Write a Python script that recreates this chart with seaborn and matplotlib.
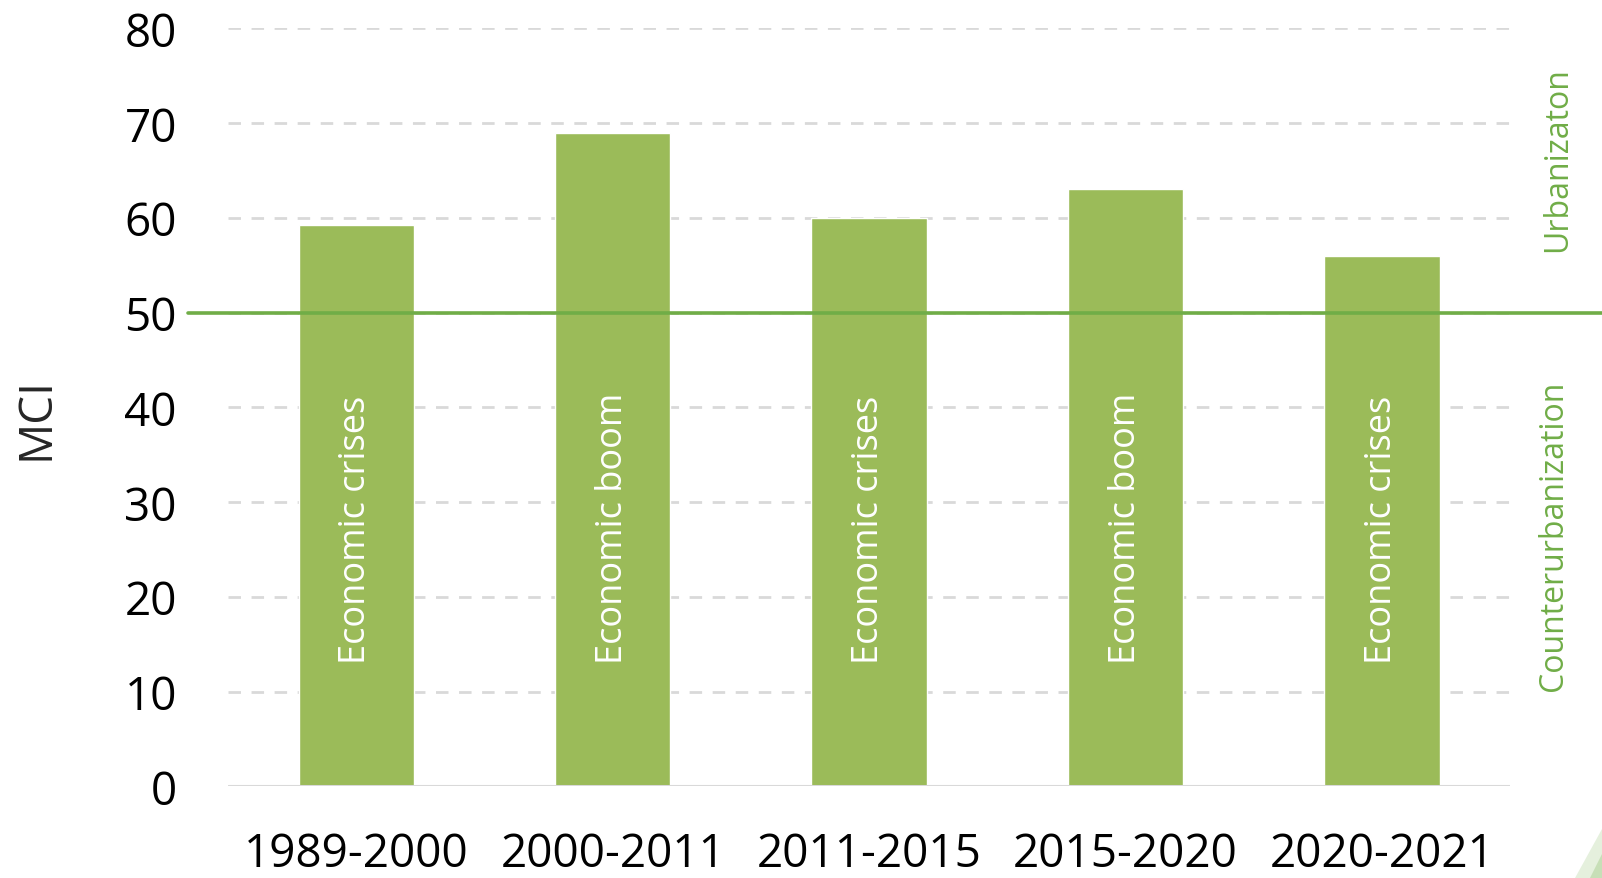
import matplotlib
matplotlib.use("Agg")
import matplotlib.pyplot as plt
import seaborn as sns
import pandas as pd
from matplotlib.patches import Polygon

periods = ["1989-2000", "2000-2011", "2011-2015", "2015-2020", "2020-2021"]
mci = [59.2, 69, 60, 63, 56]
phase = ["Economic crises", "Economic boom", "Economic crises", "Economic boom", "Economic crises"]
threshold = 50
y_ticks = [0, 10, 20, 30, 40, 50, 60, 70, 80]

BAR = "#9BBB59"
LINE = "#70AD47"
GRID = "#D9D9D9"

sns.set_style("white")
plt.rcParams["font.family"] = ["Open Sans", "DejaVu Sans"]

df = pd.DataFrame({"period": periods, "MCI": mci})

fig = plt.figure(figsize=(16.02, 8.79), dpi=100)
ax = fig.add_axes([0.1425, 0.1043, 0.8001, 0.8624])

for y in y_ticks[1:]:
    ax.axhline(y, color=GRID, lw=2, linestyle=(0, (4.5, 3.8)), zorder=0)

sns.barplot(data=df, x="period", y="MCI", color=BAR, width=0.45,
            saturation=1, ax=ax, zorder=2)

ax.axhline(threshold, xmin=-0.0314, xmax=1.08, color=LINE, lw=2.6,
           clip_on=False, zorder=3)
ax.axhline(0, color=GRID, lw=2.2, zorder=4)

for i, txt in enumerate(phase):
    ax.text(i, 13, txt, rotation=90, ha="center", va="bottom",
            color="white", fontsize=26, zorder=5)

ax.set_xlim(-0.5, len(periods) - 0.5)
ax.set_ylim(0, 80)
ax.set_yticks(y_ticks)
ax.set_xlabel("")
ax.set_ylabel("")
ax.tick_params(axis="both", length=0, labelsize=33, colors="black")
ax.tick_params(axis="y", pad=37)
ax.tick_params(axis="x", pad=32)
for s in ax.spines.values():
    s.set_visible(False)

fig.text(36.5 / 1602, 1 - 419 / 879, "MCI", rotation=90, ha="center",
         va="center", fontsize=33)
fig.text(1558 / 1602, 1 - 160 / 879, "Urbanizaton", rotation=90, ha="center",
         va="center", fontsize=23, color=LINE)
fig.text(1554 / 1602, 1 - 536 / 879, "Counterurbanization", rotation=90,
         ha="center", va="center", fontsize=23, color=LINE)

# decorative corner accent
for pts, a in [([(1575, 879), (1602, 879), (1602, 830)], 0.18),
               ([(1590, 879), (1602, 879), (1602, 855)], 0.25)]:
    fig.patches.append(Polygon([(x / 1602, 1 - y / 879) for x, y in pts],
                               closed=True, transform=fig.transFigure,
                               facecolor=LINE, alpha=a, edgecolor="none"))

fig.savefig("out.png", dpi=100)
